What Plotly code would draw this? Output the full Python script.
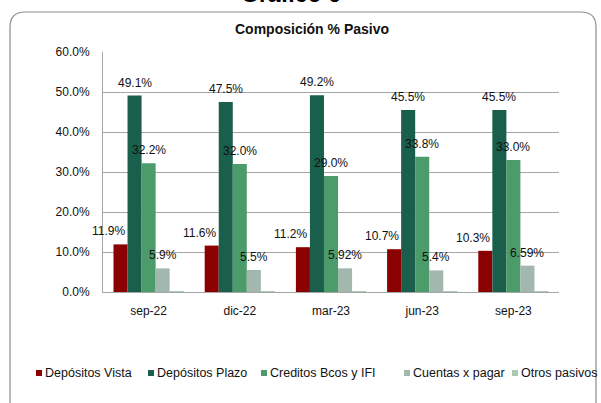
import plotly.graph_objects as go

# -----------------------------------------------------
# Data
# -----------------------------------------------------

periodos = ["sep-22", "dic-22", "mar-23", "jun-23", "sep-23"]

depositos_vista = [11.9, 11.6, 11.2, 10.7, 10.3]
depositos_plazo = [49.1, 47.5, 49.2, 45.5, 45.5]
creditos_bcos = [32.2, 32.0, 29.0, 33.8, 33.0]
cuentas_pagar = [5.9, 5.5, 5.92, 5.4, 6.59]
otros_pasivos = [0.2, 0.2, 0.2, 0.2, 0.2]

etiquetas_cuentas = ["5.9%", "5.5%", "5.92%", "5.4%", "6.59%"]

series = [
    ("Depósitos Vista", depositos_vista, "#8B0000"),
    ("Depósitos Plazo", depositos_plazo, "#1A5E4C"),
    ("Creditos Bcos y IFI", creditos_bcos, "#4B9B6B"),
    ("Cuentas x pagar", cuentas_pagar, "#A2B8AE"),
    ("Otros pasivos", otros_pasivos, "#A9CBB2"),
]

# -----------------------------------------------------
# Layout constants (pixels)
# -----------------------------------------------------

W, H = 601, 403
ML, MR, MT, MB = 103, 42, 52, 111
PW = W - ML - MR
PH = H - MT - MB
BARGAP = 0.23

FONT = "Liberation Sans"

# legend entry left edges (square) in pixels
LEGEND_X = [36, 148, 261, 404, 512]
LEGEND_Y = 373


def px_x(x):
    return (x - ML) / PW


def px_y(y):
    return (H - MB - y) / PH


fig = go.Figure()

for name, vals, color in series:
    fig.add_trace(
        go.Bar(
            x=periodos,
            y=vals,
            name=name,
            marker=dict(color=color, line=dict(width=0)),
            showlegend=False,
        )
    )

# -----------------------------------------------------
# Data labels (Excel-like placement)
# -----------------------------------------------------

cat_w = PW / len(periodos)
bar_w = cat_w * (1 - BARGAP) / len(series)

label_sets = [
    ([f"{v:.1f}%" for v in depositos_vista], -12),
    ([f"{v:.1f}%" for v in depositos_plazo], 0),
    ([f"{v:.1f}%" for v in creditos_bcos], 0),
    (etiquetas_cuentas, 0),
]

for i, (labels, extra) in enumerate(label_sets):
    vals = series[i][1]
    for cat, val, txt in zip(periodos, vals, labels):
        fig.add_annotation(
            x=cat,
            y=val,
            text=txt,
            showarrow=False,
            xshift=(i - 2) * bar_w + extra,
            yshift=13,
            yanchor="middle",
            font=dict(family=FONT, size=12, color="#111111"),
        )

# -----------------------------------------------------
# Titles
# -----------------------------------------------------

fig.add_annotation(
    x=px_x(291),
    y=px_y(9),
    xref="paper",
    yref="paper",
    text="<b>Gráfico 6</b>",
    showarrow=False,
    yanchor="bottom",
    font=dict(family=FONT, size=23, color="#000000"),
)

fig.add_annotation(
    x=px_x(312),
    y=px_y(29),
    xref="paper",
    yref="paper",
    text="<b>Composición % Pasivo</b>",
    showarrow=False,
    yanchor="middle",
    font=dict(family=FONT, size=14, color="#111111"),
)

# -----------------------------------------------------
# Legend (Excel-style, square right next to text)
# -----------------------------------------------------

SQ = 6
for (name, _, color), lx in zip(series, LEGEND_X):
    fig.add_shape(
        type="rect",
        xref="paper",
        yref="paper",
        x0=px_x(lx),
        x1=px_x(lx + SQ),
        y0=px_y(LEGEND_Y + SQ / 2),
        y1=px_y(LEGEND_Y - SQ / 2),
        fillcolor=color,
        line=dict(width=0),
    )
    fig.add_annotation(
        x=px_x(lx + SQ + 1),
        y=px_y(LEGEND_Y),
        xref="paper",
        yref="paper",
        text=name,
        showarrow=False,
        xanchor="left",
        yanchor="middle",
        font=dict(family=FONT, size=12.5, color="#111111"),
    )

# -----------------------------------------------------
# Rounded border
# -----------------------------------------------------

x0, x1 = px_x(10), px_x(596)
y0, y1 = px_y(420), px_y(12)
rx, ry = 15 / PW, 15 / PH
path = (
    f"M {x0},{y0} L {x0},{y1 - ry} Q {x0},{y1} {x0 + rx},{y1} "
    f"L {x1 - rx},{y1} Q {x1},{y1} {x1},{y1 - ry} L {x1},{y0}"
)
fig.add_shape(
    type="path",
    path=path,
    xref="paper",
    yref="paper",
    line=dict(color="#8C8C8C", width=1.2),
    layer="below",
)

fig.update_layout(
    width=W,
    height=H,
    margin=dict(l=ML, r=MR, t=MT, b=MB, autoexpand=False),
    barmode="group",
    bargap=BARGAP,
    bargroupgap=0,
    paper_bgcolor="white",
    plot_bgcolor="white",
    font=dict(family=FONT, size=12, color="#111111"),
    showlegend=False,
)

fig.update_yaxes(
    range=[0, 60],
    dtick=10,
    tickformat=".1f",
    ticksuffix="%",
    showgrid=True,
    gridcolor="#A6A6A6",
    gridwidth=1,
    showline=True,
    linecolor="#A6A6A6",
    linewidth=1,
    zeroline=False,
    ticks="",
    automargin=False,
    ticklabelstandoff=10,
    tickfont=dict(family=FONT, size=12),
)

fig.update_xaxes(
    range=[-0.5, len(periodos) - 0.5],
    showgrid=False,
    showline=True,
    linecolor="#A6A6A6",
    linewidth=1,
    ticks="",
    automargin=False,
    ticklabelstandoff=8,
    tickfont=dict(family=FONT, size=12),
)

fig.write_html(
    "out.html",
    config={"displayModeBar": False},
    post_script="document.body.style.margin = '0';",
)
